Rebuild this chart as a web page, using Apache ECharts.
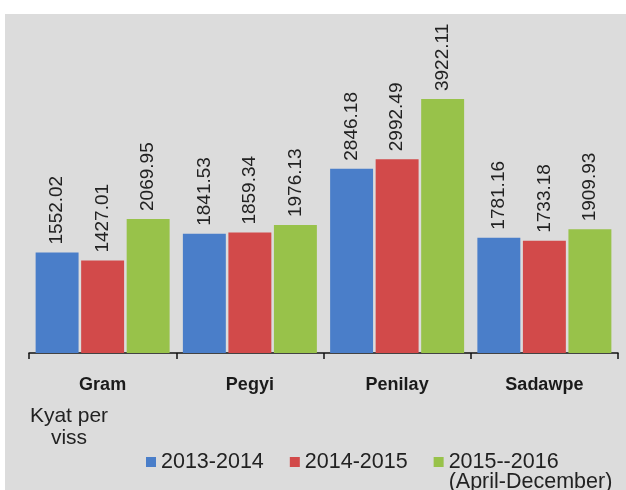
<!DOCTYPE html>
<html>
<head>
<meta charset="utf-8">
<script src="https://cdn.jsdelivr.net/npm/echarts@6/dist/echarts.min.js"></script>
<style>
  html, body { margin: 0; padding: 0; background: #ffffff; }
  #wrap { position: relative; width: 626px; height: 490px; overflow: hidden; background: #ffffff; }
  #panel { position: absolute; left: 5px; top: 14px; right: 0; bottom: 0; background: #dcdcdc; }
  #chart { position: absolute; left: 0; top: 0; width: 626px; height: 490px; }
</style>
</head>
<body>
<div id="wrap">
  <div id="panel"></div>
  <div id="chart"></div>
</div>
<script>
// Average price by pulse type, Kyat per viss
const categories = ['Gram', 'Pegyi', 'Penilay', 'Sadawpe'];
const seriesNames = ['2013-2014', '2014-2015', '2015--2016'];
const values2013 = [1552.02, 1841.53, 2846.18, 1781.16];
const values2014 = [1427.01, 1859.34, 2992.49, 1733.18];
const values2015 = [2069.95, 1976.13, 3922.11, 1909.93];
const colors = ['#4a7ec9', '#d24a4a', '#98c24a'];

const chart = echarts.init(document.getElementById('chart'), null, { renderer: 'canvas' });

function barSeries(name, data, color) {
  return {
    name: name,
    type: 'bar',
    data: data,
    barGap: '6%',
    barCategoryGap: '9%',
    itemStyle: { color: color },
    label: {
      show: true,
      position: 'top',
      rotate: 90,
      align: 'left',
      verticalAlign: 'middle',
      distance: 8,
      fontFamily: 'Liberation Sans, Arial, sans-serif',
      fontSize: 19,
      color: '#222222',
      formatter: function (p) { return p.value.toFixed(2); }
    }
  };
}

chart.setOption({
  backgroundColor: 'transparent',
  animation: false,
  grid: { left: 29, right: 8, top: 94, bottom: 137 },
  xAxis: {
    type: 'category',
    data: categories,
    axisLine: { show: true, lineStyle: { color: '#111111', width: 1.5 } },
    axisTick: { show: true, length: 6, lineStyle: { color: '#111111', width: 1.5 } },
    axisLabel: {
      margin: 23,
      fontFamily: 'Liberation Sans, Arial, sans-serif',
      fontWeight: 'bold',
      fontSize: 18,
      color: '#1a1a1a'
    }
  },
  yAxis: {
    type: 'value',
    min: 0,
    max: 4000,
    show: false,
    splitLine: { show: false }
  },
  legend: {
    left: 146,
    top: 431,
    padding: 0,
    itemWidth: 10,
    itemHeight: 10,
    itemGap: 26,
    icon: 'rect',
    textStyle: {
      fontFamily: 'Liberation Sans, Arial, sans-serif',
      fontSize: 21.5,
      lineHeight: 20,
      color: '#222222'
    },
    data: seriesNames,
    formatter: function (name) {
      // the last period carries a second line under its name
      return name === seriesNames[2] ? '\n' + name + '\n(April-December)' : name;
    }
  },
  graphic: [
    {
      type: 'text',
      x: 69,
      y: 405,
      style: {
        text: 'Kyat per\nviss',
        fontFamily: 'Liberation Sans, Arial, sans-serif',
        fontSize: 21,
        lineHeight: 22,
        fill: '#222222',
        align: 'center',
        textAlign: 'center'
      }
    }
  ],
  series: [
    barSeries(seriesNames[0], values2013, colors[0]),
    barSeries(seriesNames[1], values2014, colors[1]),
    barSeries(seriesNames[2], values2015, colors[2])
  ]
});
</script>
</body>
</html>
